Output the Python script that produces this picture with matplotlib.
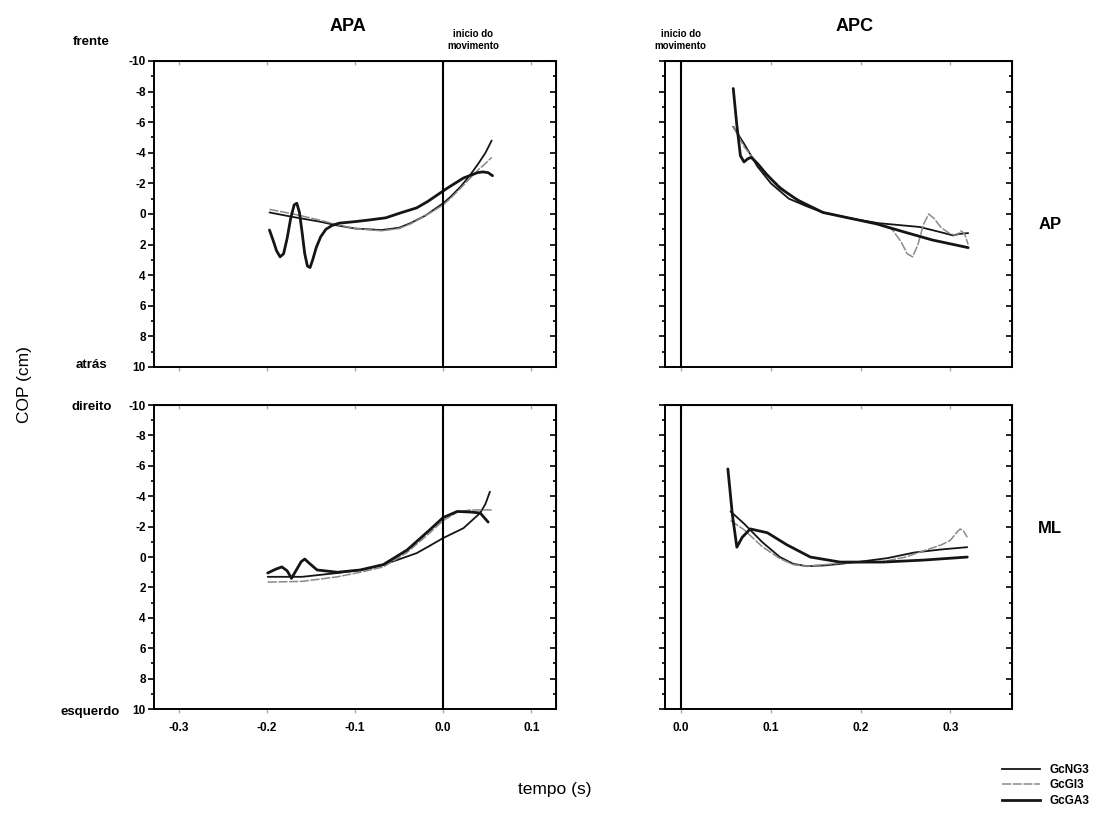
import numpy as np
import matplotlib.pyplot as plt
from matplotlib.lines import Line2D
from matplotlib.ticker import MultipleLocator

plt.rcParams['font.family'] = ['Liberation Sans', 'DejaVu Sans']
plt.rcParams['axes.unicode_minus'] = False

# --- AP, APA (top left)
apa_ap_x_ga = [-0.197, -0.193, -0.189, -0.185, -0.181, -0.177, -0.173, -0.169, -0.166, -0.163, -0.160, -0.157, -0.154, -0.151, -0.148, -0.144, -0.139, -0.133, -0.126, -0.118, -0.1, -0.085, -0.065, -0.049, -0.03, -0.018, 0.005, 0.023, 0.039, 0.045, 0.051, 0.056]
apa_ap_y_ga = [1.05, 1.7, 2.4, 2.8, 2.6, 1.6, 0.3, -0.6, -0.7, -0.1, 1.2, 2.6, 3.4, 3.5, 3.0, 2.2, 1.5, 1.0, 0.75, 0.6, 0.5, 0.4, 0.25, -0.06, -0.4, -0.8, -1.7, -2.35, -2.7, -2.75, -2.7, -2.5]
apa_ap_x_ng = [-0.197, -0.17, -0.14, -0.12, -0.1, -0.07, -0.05, -0.037, -0.02, -0.011, 0.0, 0.008, 0.02, 0.03, 0.04, 0.048, 0.055]
apa_ap_y_ng = [-0.1, 0.2, 0.5, 0.75, 0.95, 1.05, 0.9, 0.6, 0.1, -0.26, -0.7, -1.1, -1.8, -2.5, -3.3, -4.0, -4.8]
apa_ap_x_gi = [-0.197, -0.17, -0.14, -0.12, -0.1, -0.07, -0.05, -0.037, -0.02, -0.011, 0.0, 0.008, 0.02, 0.03, 0.04, 0.048, 0.055]
apa_ap_y_gi = [-0.3, 0.0, 0.4, 0.7, 0.95, 1.1, 0.95, 0.65, 0.1, -0.2, -0.6, -1.0, -1.7, -2.3, -2.9, -3.3, -3.7]

# --- AP, APC (top right)
apc_ap_x_ga = [0.058, 0.062, 0.066, 0.070, 0.074, 0.078, 0.085, 0.095, 0.11, 0.13, 0.158, 0.19, 0.218, 0.25, 0.28, 0.32]
apc_ap_y_ga = [-8.2, -5.8, -3.8, -3.4, -3.6, -3.7, -3.3, -2.6, -1.7, -0.9, -0.1, 0.3, 0.65, 1.2, 1.7, 2.2]
apc_ap_x_ng = [0.058, 0.07, 0.085, 0.1, 0.12, 0.14, 0.158, 0.19, 0.22, 0.266, 0.29, 0.303, 0.31, 0.32]
apc_ap_y_ng = [-5.7, -4.6, -3.1, -2.0, -1.0, -0.5, -0.1, 0.3, 0.6, 0.85, 1.2, 1.4, 1.3, 1.25]
apc_ap_x_gi = [0.058, 0.07, 0.085, 0.1, 0.12, 0.14, 0.158, 0.19, 0.222, 0.235, 0.245, 0.252, 0.258, 0.264, 0.270, 0.276, 0.282, 0.29, 0.3, 0.307, 0.312, 0.316, 0.32]
apc_ap_y_gi = [-5.7, -4.4, -3.3, -2.3, -1.3, -0.6, -0.1, 0.3, 0.7, 1.0, 1.8, 2.6, 2.8, 2.0, 0.7, 0.0, 0.3, 0.9, 1.3, 1.4, 1.1, 1.3, 2.0]

# --- ML, APA (bottom left)
apa_ml_x_ga = [-0.199, -0.19, -0.183, -0.177, -0.172, -0.167, -0.161, -0.157, -0.152, -0.143, -0.12, -0.094, -0.068, -0.041, -0.015, 0.0, 0.016, 0.031, 0.042, 0.051]
apa_ml_y_ga = [1.05, 0.8, 0.65, 0.9, 1.4, 0.9, 0.3, 0.13, 0.4, 0.85, 1.0, 0.85, 0.5, -0.46, -1.8, -2.6, -3.0, -2.96, -2.9, -2.3]
apa_ml_x_ng = [-0.199, -0.16, -0.12, -0.094, -0.068, -0.05, -0.03, -0.015, 0.0, 0.023, 0.042, 0.048, 0.053]
apa_ml_y_ng = [1.3, 1.3, 1.05, 0.85, 0.5, 0.15, -0.26, -0.75, -1.25, -1.9, -2.9, -3.5, -4.3]
apa_ml_x_gi = [-0.199, -0.16, -0.12, -0.094, -0.068, -0.041, -0.015, 0.0, 0.016, 0.031, 0.055]
apa_ml_y_gi = [1.65, 1.6, 1.3, 1.0, 0.65, -0.3, -1.6, -2.4, -2.96, -3.1, -3.1]

# --- ML, APC (bottom right)
apc_ml_x_ga = [0.052, 0.057, 0.062, 0.068, 0.077, 0.096, 0.118, 0.144, 0.177, 0.225, 0.27, 0.319]
apc_ml_y_ga = [-5.8, -2.8, -0.65, -1.3, -1.85, -1.6, -0.8, 0.0, 0.33, 0.33, 0.2, 0.0]
apc_ml_x_ng = [0.055, 0.07, 0.09, 0.11, 0.125, 0.14, 0.16, 0.177, 0.2, 0.23, 0.26, 0.29, 0.319]
apc_ml_y_ng = [-3.0, -2.2, -1.0, 0.0, 0.45, 0.6, 0.55, 0.45, 0.3, 0.07, -0.3, -0.5, -0.65]
apc_ml_x_gi = [0.055, 0.07, 0.09, 0.11, 0.125, 0.14, 0.16, 0.177, 0.2, 0.225, 0.25, 0.27, 0.29, 0.3, 0.307, 0.311, 0.315, 0.319]
apc_ml_y_gi = [-2.4, -1.8, -0.7, 0.1, 0.5, 0.6, 0.5, 0.4, 0.35, 0.3, 0.0, -0.4, -0.8, -1.1, -1.6, -1.85, -1.7, -1.3]

series = {
    'apa_ap': [(apa_ap_x_ng, apa_ap_y_ng), (apa_ap_x_gi, apa_ap_y_gi), (apa_ap_x_ga, apa_ap_y_ga)],
    'apc_ap': [(apc_ap_x_ng, apc_ap_y_ng), (apc_ap_x_gi, apc_ap_y_gi), (apc_ap_x_ga, apc_ap_y_ga)],
    'apa_ml': [(apa_ml_x_ng, apa_ml_y_ng), (apa_ml_x_gi, apa_ml_y_gi), (apa_ml_x_ga, apa_ml_y_ga)],
    'apc_ml': [(apc_ml_x_ng, apc_ml_y_ng), (apc_ml_x_gi, apc_ml_y_gi), (apc_ml_x_ga, apc_ml_y_ga)],
}
names = ['GcNG3', 'GcGI3', 'GcGA3']
styles = [dict(color='#151515', lw=1.3, ls='-'),
          dict(color='#8a8a8a', lw=1.1, ls=(0, (6, 1))),
          dict(color='#151515', lw=2.0, ls='-')]

fig = plt.figure(figsize=(11.03, 8.15), dpi=100)
lx, lw_ = 0.1396, 0.3645
rx, rw = 0.603, 0.3146
ty, th = 0.5497, 0.3755
by, bh = 0.130, 0.373
axes = {
    'apa_ap': fig.add_axes([lx, ty, lw_, th]),
    'apc_ap': fig.add_axes([rx, ty, rw, th]),
    'apa_ml': fig.add_axes([lx, by, lw_, bh]),
    'apc_ml': fig.add_axes([rx, by, rw, bh]),
}

for key, ax in axes.items():
    for (x, y), st in zip(series[key], styles):
        ax.plot(x, y, solid_joinstyle='round', solid_capstyle='round', **st)
    ax.axvline(0, color='black', lw=1.5)
    ax.set_ylim(10, -10)
    if key.startswith('apa'):
        ax.set_xlim(-0.328, 0.128)
        xt = [-0.3, -0.2, -0.1, 0.0, 0.1]
    else:
        ax.set_xlim(-0.018, 0.369)
        xt = [0.0, 0.1, 0.2, 0.3]
    ax.set_xticks(xt)
    ax.yaxis.set_major_locator(MultipleLocator(2))
    ax.yaxis.set_minor_locator(MultipleLocator(1))
    ax.tick_params(axis='y', which='major', direction='out', length=4, width=1.2, pad=2)
    ax.tick_params(axis='y', which='minor', direction='out', length=2, width=1.2)
    ax.tick_params(axis='x', direction='out', length=3, width=1, color='#aaaaaa', pad=6)
    ax.tick_params(labelsize=8.5)
    for lab in ax.get_xticklabels() + ax.get_yticklabels():
        lab.set_fontweight('bold')
    for sp in ax.spines.values():
        sp.set_linewidth(1.4)
    # right ticks inward, top ticks inward
    ry = ax.secondary_yaxis('right')
    ry.yaxis.set_major_locator(MultipleLocator(2))
    ry.yaxis.set_minor_locator(MultipleLocator(1))
    ry.tick_params(which='major', direction='in', length=4, width=1.2, labelright=False)
    ry.tick_params(which='minor', direction='in', length=2, width=1.2)
    tx = ax.secondary_xaxis('top')
    tx.set_xticks(xt)
    tx.tick_params(direction='in', length=3, width=1, color='#aaaaaa', labeltop=False)
    if key.endswith('ap'):
        ax.tick_params(labelbottom=False)
    if key.startswith('apc'):
        ax.tick_params(labelleft=False)

fig.text(0.3155, 0.967, 'APA', fontsize=13, fontweight='bold', ha='center', va='center')
fig.text(0.775, 0.967, 'APC', fontsize=13, fontweight='bold', ha='center', va='center')
fig.text(0.429, 0.951, 'inicio do\nmovimento', fontsize=7, fontweight='bold', ha='center', va='center', linespacing=1.3)
fig.text(0.617, 0.951, 'inicio do\nmovimento', fontsize=7, fontweight='bold', ha='center', va='center', linespacing=1.3)
fig.text(0.083, 0.948, 'frente', fontsize=9.5, fontweight='bold', ha='center', va='center')
fig.text(0.083, 0.552, 'atrás', fontsize=9.5, fontweight='bold', ha='center', va='center')
fig.text(0.083, 0.501, 'direito', fontsize=9.5, fontweight='bold', ha='center', va='center')
fig.text(0.082, 0.126, 'esquerdo', fontsize=9.5, fontweight='bold', ha='center', va='center')
fig.text(0.022, 0.528, 'COP (cm)', fontsize=12.5, rotation=90, ha='center', va='center')
fig.text(0.503, 0.031, 'tempo (s)', fontsize=12.5, ha='center', va='center')
fig.text(0.952, 0.724, 'AP', fontsize=12, fontweight='bold', ha='center', va='center')
fig.text(0.952, 0.352, 'ML', fontsize=12, fontweight='bold', ha='center', va='center')

handles = [Line2D([], [], **st) for st in styles]
leg = fig.legend(handles, names, loc='lower right', bbox_to_anchor=(0.995, 0.0), frameon=False,
                 fontsize=8.5, handlelength=3.2, labelspacing=0.3, borderaxespad=0.3)
for t in leg.get_texts():
    t.set_fontweight('bold')

fig.savefig('out.png', dpi=100)
